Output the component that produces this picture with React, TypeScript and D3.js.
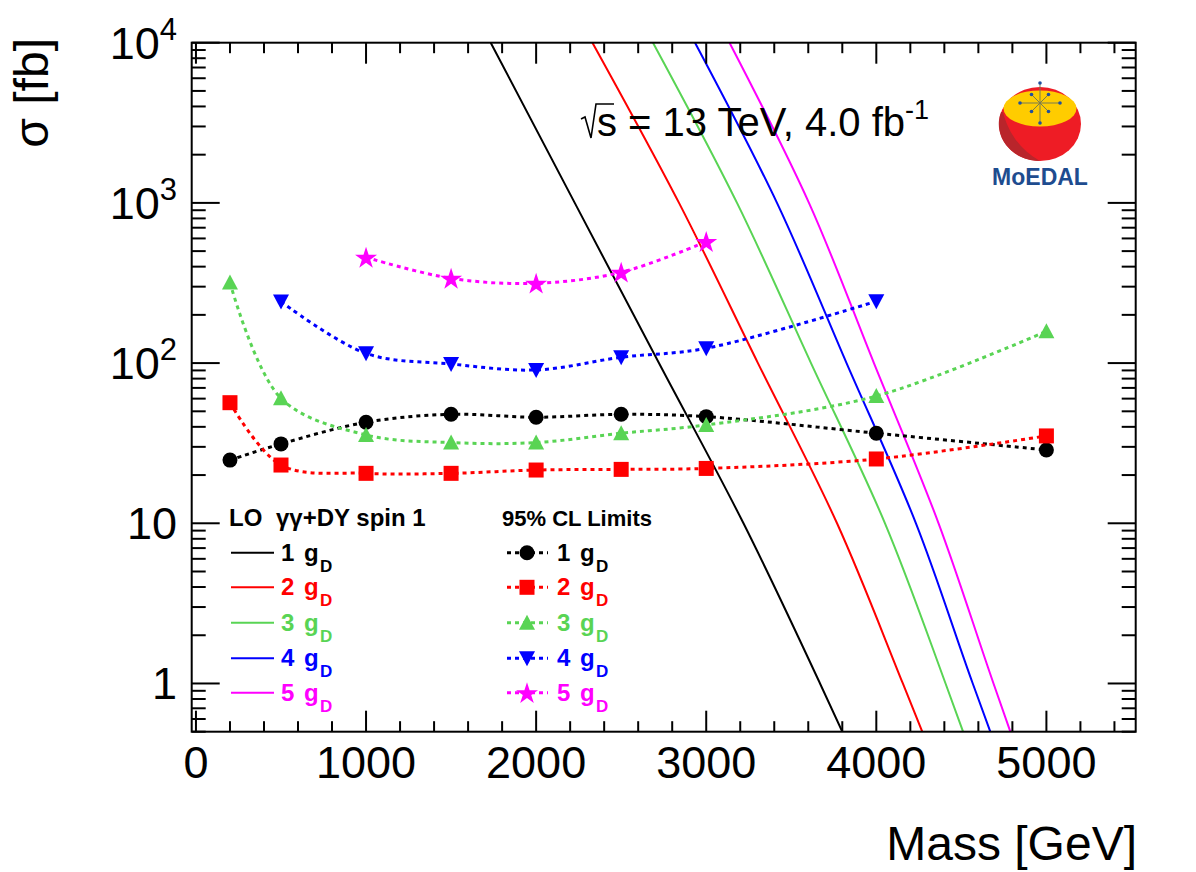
import React from 'react'
import * as d3 from 'd3'

const W = 1196
const H = 872
const frame = { left: 191.7, right: 1135.7, top: 42.7, bottom: 731.7 }
const font = '"Liberation Sans", Arial, Helvetica, sans-serif'

const colors = ['#000000', '#ff0000', '#59d454', '#0000ff', '#ff00ff']
const markerKinds = ['circle', 'square', 'triangleUp', 'triangleDown', 'star']
const gLabels = ['1', '2', '3', '4', '5']

// 95% CL limits (fb)
const mass1 = [200, 500, 1000, 1500, 2000, 2500, 3000, 4000, 5000]
const limit1 = [24.8, 31.3, 42.7, 47.9, 45.9, 47.9, 46.3, 36.5, 28.7]
const mass2 = [200, 500, 1000, 1500, 2000, 2500, 3000, 4000, 5000]
const limit2 = [56.6, 23.1, 20.5, 20.5, 21.5, 21.7, 22.0, 25.2, 35.1]
const mass3 = [200, 500, 1000, 1500, 2000, 2500, 3000, 4000, 5000]
const limit3 = [318, 60.3, 35.6, 31.9, 31.9, 36.5, 41.1, 62.3, 158]
const mass4 = [500, 1000, 1500, 2000, 2500, 3000, 4000]
const limit4 = [242, 115, 98.7, 90.6, 108.7, 123.7, 243]
const mass5 = [1000, 1500, 2000, 2500, 3000]
const limit5 = [457, 338, 315, 369, 573]

// LO gamma-gamma + DY spin 1 cross sections: mass where sigma crosses these values
const theorySigma = [10000, 1000, 100, 10, 1, 0.5]
const theoryMass1 = [1733, 2227, 2722, 3219, 3669, 3800]
const theoryMass2 = [2331, 2840, 3304, 3769, 4156, 4270]
const theoryMass3 = [2687, 3181, 3616, 4051, 4407, 4510]
const theoryMass4 = [2934, 3416, 3825, 4233, 4567, 4670]
const theoryMass5 = [3137, 3604, 3986, 4366, 4689, 4788]

const xMajor = [0, 1000, 2000, 3000, 4000, 5000]
const yMajor = [1, 10, 100, 1000, 10000]
const yLabels = [
  { v: 10000, base: '10', sup: '4' },
  { v: 1000, base: '10', sup: '3' },
  { v: 100, base: '10', sup: '2' },
  { v: 10, base: '10', sup: '' },
  { v: 1, base: '1', sup: '' }
]

const limitSeries = [
  [mass1, limit1],
  [mass2, limit2],
  [mass3, limit3],
  [mass4, limit4],
  [mass5, limit5]
]
const theorySeries = [theoryMass1, theoryMass2, theoryMass3, theoryMass4, theoryMass5]

const x = d3.scaleLinear().domain([-25, 5525]).range([frame.left, frame.right])
const y = d3.scaleLog().domain([0.5, 10000]).range([frame.bottom, frame.top])

const xMinor = d3.range(0, 5501, 200).filter(v => v % 1000 !== 0)
const yMinor: number[] = []
;[0.1, 1, 10, 100, 1000].forEach(d => {
  for (let k = 2; k <= 9; k++) {
    const v = k * d
    if (v >= 0.5 && v <= 10000) yMinor.push(v)
  }
})

const Marker = ({ kind, cx, cy, color }: { kind: string; cx: number; cy: number; color: string }) => {
  switch (kind) {
    case 'circle':
      return <circle cx={cx} cy={cy} r={7.5} fill={color} />
    case 'square':
      return <rect x={cx - 7.5} y={cy - 7.5} width={15} height={15} fill={color} />
    case 'triangleUp':
      return <path d={`M${cx},${cy - 8}L${cx + 8},${cy + 7}L${cx - 8},${cy + 7}Z`} fill={color} />
    case 'triangleDown':
      return <path d={`M${cx},${cy + 8}L${cx + 8},${cy - 7}L${cx - 8},${cy - 7}Z`} fill={color} />
    case 'star':
      return (
        <path
          d={d3.symbol().type(d3.symbolStar).size(150)() as string}
          transform={`translate(${cx},${cy + 1})`}
          fill={color}
        />
      )
    default:
      return null
  }
}

const Logo = () => {
  const cx = 1040
  const arrows = [0, 45, 90, 135, 180, 225, 270, 315]
  return (
    <g>
      <ellipse cx={cx} cy={124} rx={41} ry={37} fill="#ee1c25" />
      <path d="M1001,112 A41,37 0 0 0 1040,161 C1020,150 1008,132 1003,112 Z" fill="#b9252b" />
      <ellipse cx={cx} cy={108.5} rx={36.5} ry={18} fill="#ffcc00" />
      {arrows.map(a => {
        const long = a % 180 === 90 ? 20 : a % 180 === 0 ? 20 : 12
        const rad = (a * Math.PI) / 180
        const x2 = cx + Math.cos(rad) * long
        const y2 = 103 + Math.sin(rad) * long
        return (
          <g key={a}>
            <line x1={cx} y1={103} x2={x2} y2={y2} stroke="#7a7a50" strokeWidth={1} />
            <circle cx={x2} cy={y2} r={1.8} fill="#1f4fa0" />
          </g>
        )
      })}
      <text x={cx} y={185} textAnchor="middle" fontFamily={font} fontWeight="bold" fontSize={23} fill="#1e4c8f">
        MoEDAL
      </text>
    </g>
  )
}

const Entry = ({ x0, y0, label, color }: { x0: number; y0: number; label: string; color: string }) => (
  <g fill={color}>
    <text x={x0} y={y0} fontSize={24}>
      {label}
    </text>
    <text x={x0 + 23} y={y0} fontSize={24}>
      g
    </text>
    <text x={x0 + 39} y={y0 + 11} fontSize={17}>
      D
    </text>
  </g>
)

const App = () => {
  const limitLine = d3
    .line<[number, number]>()
    .x(d => x(d[0]))
    .y(d => y(d[1]))
    .curve(d3.curveCatmullRom.alpha(0.5))
  const theoryLine = d3
    .line<[number, number]>()
    .x(d => x(d[0]))
    .y(d => y(d[1]))
    .curve(d3.curveMonotoneY)

  const legendRows = [552.7, 587.3, 622.7, 658.3, 692.7]

  return (
    <svg width={W} height={H} style={{ position: 'absolute', left: 0, top: 0, background: '#fff' }}>
      <defs>
        <clipPath id="frameClip">
          <rect x={frame.left} y={frame.top} width={frame.right - frame.left} height={frame.bottom - frame.top} />
        </clipPath>
      </defs>
      <rect x={0} y={0} width={W} height={H} fill="#fff" />

      {/* theory curves */}
      <g clipPath="url(#frameClip)">
        {theorySeries.map((ms, i) => (
          <path
            key={'t' + i}
            d={theoryLine(ms.map((m, j) => [m, theorySigma[j]] as [number, number])) as string}
            fill="none"
            stroke={colors[i]}
            strokeWidth={2}
          />
        ))}
      </g>

      {/* limits */}
      <g clipPath="url(#frameClip)">
        {limitSeries.map(([ms, ls], i) => (
          <g key={'l' + i}>
            <path
              d={limitLine(ms.map((m, j) => [m, ls[j]] as [number, number])) as string}
              fill="none"
              stroke={colors[i]}
              strokeWidth={3}
              strokeDasharray="4 4"
            />
            {ms.map((m, j) => (
              <Marker key={j} kind={markerKinds[i]} cx={x(m)} cy={y(ls[j])} color={colors[i]} />
            ))}
          </g>
        ))}
      </g>

      {/* frame and ticks */}
      <g stroke="#000" strokeWidth={2}>
        <rect
          x={frame.left}
          y={frame.top}
          width={frame.right - frame.left}
          height={frame.bottom - frame.top}
          fill="none"
        />
        {xMajor.map(v => (
          <g key={'xM' + v}>
            <line x1={x(v)} x2={x(v)} y1={frame.bottom} y2={frame.bottom - 21} />
            <line x1={x(v)} x2={x(v)} y1={frame.top} y2={frame.top + 21} />
          </g>
        ))}
        {xMinor.map(v => (
          <g key={'xm' + v}>
            <line x1={x(v)} x2={x(v)} y1={frame.bottom} y2={frame.bottom - 10.5} />
            <line x1={x(v)} x2={x(v)} y1={frame.top} y2={frame.top + 10.5} />
          </g>
        ))}
        {yMajor.map(v => (
          <g key={'yM' + v}>
            <line x1={frame.left} x2={frame.left + 28} y1={y(v)} y2={y(v)} />
            <line x1={frame.right} x2={frame.right - 28} y1={y(v)} y2={y(v)} />
          </g>
        ))}
        {yMinor.map(v => (
          <g key={'ym' + v}>
            <line x1={frame.left} x2={frame.left + 14} y1={y(v)} y2={y(v)} />
            <line x1={frame.right} x2={frame.right - 14} y1={y(v)} y2={y(v)} />
          </g>
        ))}
      </g>

      {/* axis labels */}
      <g fontFamily={font} fontSize={45} fill="#000">
        {xMajor.map(v => (
          <text key={'xl' + v} x={x(v)} y={778} textAnchor="middle">
            {v}
          </text>
        ))}
        {yLabels.map(l => (
          <text key={'yl' + l.v} x={177} y={y(l.v) + 16} textAnchor="end">
            {l.base}
            {l.sup && (
              <tspan dy={-19} fontSize={31}>
                {l.sup}
              </tspan>
            )}
          </text>
        ))}
        <text x={1137} y={860} textAnchor="end" fontSize={48}>
          Mass [GeV]
        </text>
        <text transform="translate(48,38) rotate(-90)" textAnchor="end" fontSize={48}>
          σ [fb]
        </text>
      </g>

      {/* energy / luminosity */}
      <g fontFamily={font} fill="#000">
        <path d="M581,119 L585,117 L591,138 L596,104 L614,104" fill="none" stroke="#000" strokeWidth={1.6} />
        <text x={597} y={136} fontSize={40}>
          s = 13 TeV, 4.0 fb
          <tspan dy={-17} fontSize={27}>
            -1
          </tspan>
        </text>
      </g>

      <Logo />

      {/* legend */}
      <g fontFamily={font} fontWeight="bold">
        <text x={229} y={526} fontSize={24} fill="#000">
          LO
        </text>
        <text x={276} y={526} fontSize={24} fill="#000">
          γγ+DY spin 1
        </text>
        <text x={502} y={526} fontSize={22} fill="#000">
          95% CL Limits
        </text>
        {legendRows.map((ry, i) => (
          <g key={'lg' + i}>
            <line x1={231} x2={274} y1={ry} y2={ry} stroke={colors[i]} strokeWidth={2} />
            <Entry x0={281} y0={ry + 8} label={gLabels[i]} color={colors[i]} />
            <line x1={507} x2={548} y1={ry} y2={ry} stroke={colors[i]} strokeWidth={3} strokeDasharray="4 4" />
            <Marker kind={markerKinds[i]} cx={527} cy={ry} color={colors[i]} />
            <Entry x0={557} y0={ry + 8} label={gLabels[i]} color={colors[i]} />
          </g>
        ))}
      </g>
    </svg>
  )
}

export default App
